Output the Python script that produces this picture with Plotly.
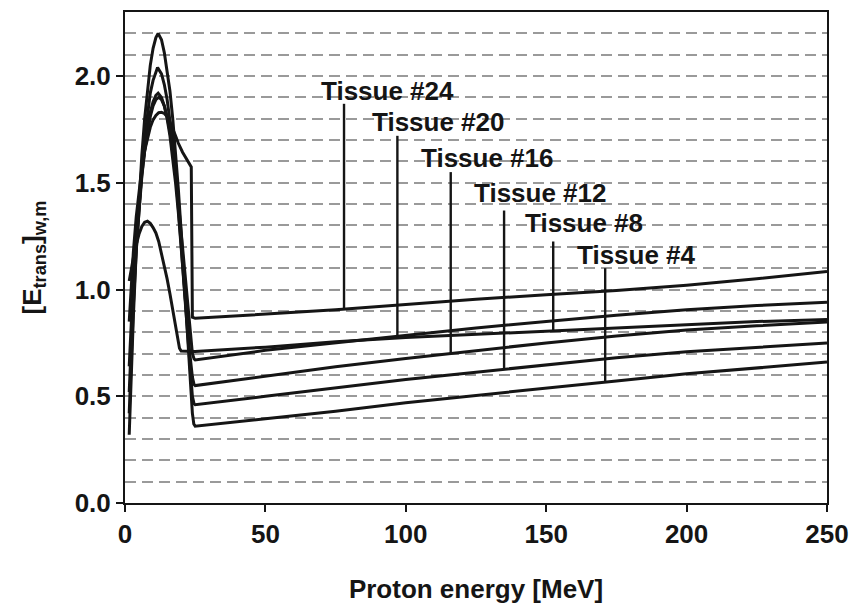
import numpy as np
import plotly.graph_objects as go

# ---------------- data ----------------
flat_e = [50, 75, 100, 125, 150, 175, 200, 225, 250]

e_t4 = [1.5, 2, 3, 4, 5, 6, 7, 8, 9, 10, 11, 11.8, 13, 14, 15, 16, 17, 18, 19, 20, 21, 22, 23, 24, 24.5, 25] + flat_e
v_t4 = [0.32, 0.52, 0.88, 1.18, 1.43, 1.63, 1.80, 1.94, 2.05, 2.13, 2.18, 2.20, 2.17, 2.11, 2.03, 1.93,
        1.80, 1.65, 1.47, 1.27, 1.06, 0.84, 0.62, 0.42, 0.37, 0.36,
        0.395, 0.43, 0.47, 0.505, 0.54, 0.572, 0.605, 0.632, 0.66]

e_t8 = [1.5, 2, 3, 4, 5, 6, 7, 8, 9, 10, 11, 12, 13, 14, 15, 16, 17, 18, 18.8, 19.4, 20, 22, 25] + flat_e
v_t8 = [1.04, 1.08, 1.15, 1.21, 1.26, 1.295, 1.315, 1.32, 1.31, 1.29, 1.265, 1.225, 1.17, 1.11, 1.05, 0.98,
        0.90, 0.82, 0.765, 0.725, 0.712, 0.71, 0.71,
        0.73, 0.755, 0.775, 0.79, 0.805, 0.82, 0.835, 0.85, 0.86]

e_t12 = [1.5, 2, 3, 4, 5, 6, 7, 8, 9, 10, 11, 11.6, 13, 14, 15, 16, 17, 18, 19, 20, 21, 22, 23, 24, 24.6, 25] + flat_e
v_t12 = [0.42, 0.62, 0.93, 1.18, 1.39, 1.56, 1.71, 1.83, 1.92, 1.98, 2.025, 2.04, 2.01, 1.96, 1.89, 1.80,
         1.69, 1.55, 1.39, 1.21, 1.02, 0.83, 0.65, 0.50, 0.465, 0.46,
         0.50, 0.54, 0.578, 0.613, 0.648, 0.68, 0.708, 0.73, 0.75]

e_t16 = [1.5, 2, 3, 4, 5, 6, 7, 8, 9, 10, 11, 11.8, 13, 14, 15, 16, 17, 18, 19, 20, 21, 22, 23, 24, 24.6, 25] + flat_e
v_t16 = [0.52, 0.70, 0.98, 1.20, 1.38, 1.53, 1.65, 1.75, 1.83, 1.88, 1.91, 1.92, 1.90, 1.86, 1.80, 1.72,
         1.62, 1.50, 1.36, 1.20, 1.03, 0.86, 0.71, 0.59, 0.555, 0.55,
         0.595, 0.638, 0.677, 0.715, 0.75, 0.782, 0.81, 0.83, 0.848]

e_t20 = [1.5, 2, 3, 4, 5, 6, 7, 8, 9, 10, 11, 12, 13, 14, 15, 16, 17, 18, 19, 20, 21, 22, 23, 24, 24.6, 25] + flat_e
v_t20 = [0.64, 0.80, 1.05, 1.25, 1.41, 1.54, 1.65, 1.74, 1.81, 1.86, 1.89, 1.90, 1.89, 1.86, 1.81, 1.74,
         1.65, 1.54, 1.41, 1.27, 1.12, 0.96, 0.82, 0.70, 0.675, 0.67,
         0.715, 0.75, 0.785, 0.82, 0.85, 0.88, 0.905, 0.925, 0.94]

e_t24 = [1.5, 2, 3, 4, 5, 6, 7, 8, 9, 10, 11, 12, 13, 14, 15, 16, 17, 18, 19, 20.5, 23.6, 24.0, 25] + flat_e
v_t24 = [0.85, 0.98, 1.18, 1.34, 1.47, 1.57, 1.65, 1.71, 1.76, 1.795, 1.815, 1.828, 1.83, 1.825, 1.81,
         1.785, 1.755, 1.72, 1.685, 1.643, 1.574, 0.87, 0.865,
         0.885, 0.905, 0.93, 0.955, 0.975, 0.995, 1.02, 1.05, 1.085]

tissue_names = ["Tissue #24", "Tissue #20", "Tissue #16", "Tissue #12", "Tissue #8", "Tissue #4"]
leader_x = [78, 97, 116, 135, 152.5, 171]
leader_top = [1.87, 1.72, 1.55, 1.37, 1.225, 1.10]
label_x = [93.5, 111.5, 129.0, 148.0, 163.5, 182.0]
label_y = [1.93, 1.783, 1.615, 1.45, 1.31, 1.163]

x_ticks = [0, 50, 100, 150, 200, 250]
y_ticks = [0.0, 0.5, 1.0, 1.5, 2.0]

series = {
    "Tissue #24": (e_t24, v_t24),
    "Tissue #20": (e_t20, v_t20),
    "Tissue #16": (e_t16, v_t16),
    "Tissue #12": (e_t12, v_t12),
    "Tissue #8": (e_t8, v_t8),
    "Tissue #4": (e_t4, v_t4),
}

# ---------------- figure ----------------
fig = go.Figure()
for name, (ex, vy) in series.items():
    fig.add_trace(go.Scatter(x=ex, y=vy, mode="lines", name=name,
                             line=dict(color="#151515", width=3), showlegend=False,
                             hoverinfo="skip"))

FONT = "Liberation Sans, Arial, sans-serif"
for name, lx, lt, tx, ty in zip(tissue_names, leader_x, leader_top, label_x, label_y):
    ex, vy = series[name]
    bottom = float(np.interp(lx, ex, vy))
    fig.add_trace(go.Scatter(x=[lx, lx], y=[lt, bottom], mode="lines",
                             line=dict(color="#151515", width=2.4), showlegend=False,
                             hoverinfo="skip"))
    fig.add_annotation(x=tx, y=ty, text="<b>%s</b>" % name, showarrow=False,
                       font=dict(family=FONT, size=26, color="#151515"),
                       xanchor="center", yanchor="middle", bgcolor="rgba(0,0,0,0)")

fig.update_layout(
    width=859, height=609,
    margin=dict(l=125, r=24, t=10, b=104),
    paper_bgcolor="white", plot_bgcolor="white",
    font=dict(family=FONT, size=26, color="#151515"),
)
fig.update_xaxes(
    range=[0, 250], tickvals=x_ticks, ticktext=["<b>%d</b>" % t for t in x_ticks],
    showline=True, linecolor="#151515", linewidth=2, mirror=True,
    ticks="outside", ticklen=7, tickwidth=2, tickcolor="#151515",
    showgrid=False, zeroline=False,
    tickfont=dict(family=FONT, size=26, color="#151515"),
    title=dict(text="<b>Proton energy [MeV]</b>", font=dict(family=FONT, size=26, color="#151515"),
               standoff=32),
)
fig.update_yaxes(
    range=[0, 2.3], tickvals=y_ticks, ticktext=["<b>%.1f</b>" % t for t in y_ticks],
    showline=True, linecolor="#151515", linewidth=2, mirror=True,
    ticks="outside", ticklen=7, tickwidth=2, tickcolor="#151515",
    showgrid=True, gridcolor="#9a9a9a", gridwidth=1.6, griddash="11px,6px",
    minor=dict(dtick=0.1, tick0=0, showgrid=True, gridcolor="#9a9a9a", gridwidth=1.6,
               griddash="11px,6px", ticks=""),
    zeroline=False,
    tickfont=dict(family=FONT, size=26, color="#151515"),
    title=dict(text="<b>[E<sub>trans</sub>]<sub>w,m</sub></b>",
               font=dict(family=FONT, size=26, color="#151515"), standoff=26),
)

fig.write_html("out.html")
